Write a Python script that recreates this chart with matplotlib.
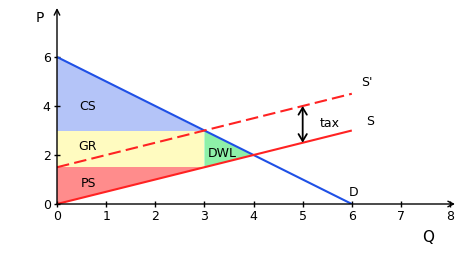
import matplotlib
matplotlib.use("Agg")
import matplotlib.pyplot as plt
from matplotlib.patches import Polygon

# Data
q_line = [0, 6]
demand_p = [6, 0]
supply_p = [0, 3]
supply_tax_p = [1.5, 4.5]
q_tax = 3          # quantity with tax
p_buyer = 3        # price paid by buyers
p_seller = 1.5     # price received by sellers
q_eq = 4           # equilibrium quantity without tax
p_eq = 2           # equilibrium price without tax
tax_q = 5
tax_bottom = 2.5
tax_top = 4.0
x_ticks = [0, 1, 2, 3, 4, 5, 6, 7, 8]
y_ticks = [0, 2, 4, 6]

fig = plt.figure(figsize=(4.6, 2.59), dpi=100)
ax = fig.add_axes([57/460, 55/259, 398/460, 196/259])
ax.set_xlim(0, 8.1)
ax.set_ylim(0, 8.0)

# Areas
cs = Polygon([(0, demand_p[0]), (0, p_buyer), (q_tax, p_buyer)], closed=True,
             facecolor="#b4c4f8", edgecolor="none", zorder=1)
gr = Polygon([(0, p_seller), (0, p_buyer), (q_tax, p_buyer), (q_tax, p_seller)], closed=True,
             facecolor="#fffbc0", edgecolor="none", zorder=1)
ps = Polygon([(0, 0), (0, p_seller), (q_tax, p_seller)], closed=True,
             facecolor="#ff8c8c", edgecolor="none", zorder=1)
dwl = Polygon([(q_tax, p_buyer), (q_tax, p_seller), (q_eq, p_eq)], closed=True,
              facecolor="#8ef0a8", edgecolor="none", zorder=1)
for p in (cs, gr, ps, dwl):
    ax.add_patch(p)

# Lines
ax.plot(q_line, demand_p, color="#1f50e6", lw=1.5, zorder=3, solid_capstyle="butt")
ax.plot(q_line, supply_p, color="#ff2222", lw=1.5, zorder=3, solid_capstyle="butt")
ax.plot(q_line, supply_tax_p, color="#ff2222", lw=1.5, ls=(0, (6, 2.5)), zorder=3)

# Tax arrow
ax.annotate("", xy=(tax_q, tax_top), xytext=(tax_q, tax_bottom),
            arrowprops=dict(arrowstyle="<->,head_length=0.5,head_width=0.3", color="black", lw=1.3,
                            shrinkA=0, shrinkB=0), zorder=4)

# Labels
fs = 9
ax.text(0.62, 4.0, "CS", fontsize=fs, ha="center", va="center")
ax.text(0.63, 2.33, "GR", fontsize=fs, ha="center", va="center")
ax.text(0.65, 0.82, "PS", fontsize=fs, ha="center", va="center")
ax.text(3.37, 2.05, "DWL", fontsize=fs, ha="center", va="center")
ax.text(5.55, 3.3, "tax", fontsize=fs, ha="center", va="center")
ax.text(6.3, 4.95, "S'", fontsize=fs, ha="center", va="center")
ax.text(6.38, 3.36, "S", fontsize=fs, ha="center", va="center")
ax.text(6.03, 0.45, "D", fontsize=fs, ha="center", va="center")

# Axes with arrows
for s in ax.spines.values():
    s.set_visible(False)
ax.annotate("", xy=(8.1, 0), xytext=(0, 0), xycoords="data",
            arrowprops=dict(arrowstyle="->", color="black", lw=1.0, shrinkA=0, shrinkB=0),
            annotation_clip=False)
ax.annotate("", xy=(0, 8.0), xytext=(0, 0), xycoords="data",
            arrowprops=dict(arrowstyle="->", color="black", lw=1.0, shrinkA=0, shrinkB=0),
            annotation_clip=False)

ax.set_xticks(x_ticks)
ax.set_yticks(y_ticks)
ax.tick_params(direction="inout", length=5, width=1, labelsize=9, pad=2)
ax.text(-0.35, 7.6, "P", fontsize=10, ha="center", va="center", transform=ax.transData)
ax.text(7.55, -1.35, "Q", fontsize=11, ha="center", va="center", transform=ax.transData)

fig.savefig("out.png", dpi=100)
